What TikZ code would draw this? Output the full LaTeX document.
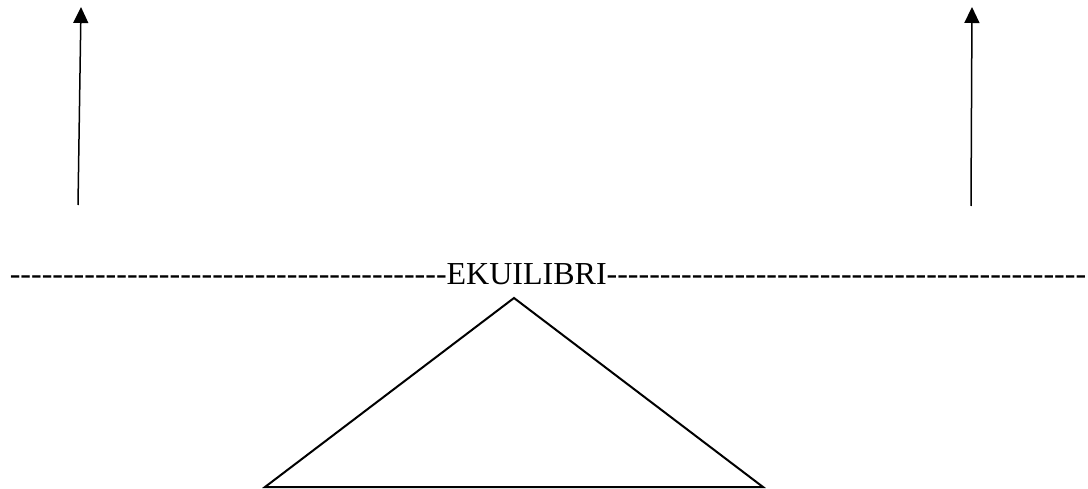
\documentclass[tikz,border=0pt]{standalone}
\usepackage{fontspec}
\setmainfont{Liberation Serif}
\usetikzlibrary{arrows.meta}
\newcommand\hyrun[1]{\foreach \k in {1,...,#1}{\hbox{-}}}
\begin{document}
\begin{tikzpicture}[x=1pt,y=-1pt,
  force/.style={line width=1.5pt,-{Triangle[length=16pt,width=15pt]}},
  fulcrum/.style={line width=2pt,line join=miter}]
\useasboundingbox (0,0) rectangle (1088,489);
\coordinate (l0) at (78,205);
\coordinate (l1) at (81,7);
\coordinate (r0) at (971,206);
\coordinate (r1) at (972,7);
\draw[force] (l0) -- (l1);
\draw[force] (r0) -- (r1);
\node[anchor=base,inner sep=0pt,font=\fontsize{32}{38}\selectfont] (eq) at (548,285)
  {\hyrun{41}EKUILIBRI\hyrun{45}};
\coordinate (a) at (514,298);
\coordinate (b) at (265,487);
\coordinate (c) at (763,487);
\draw[fulcrum] (b) -- (a) -- (c) -- cycle;
\end{tikzpicture}
\end{document}
